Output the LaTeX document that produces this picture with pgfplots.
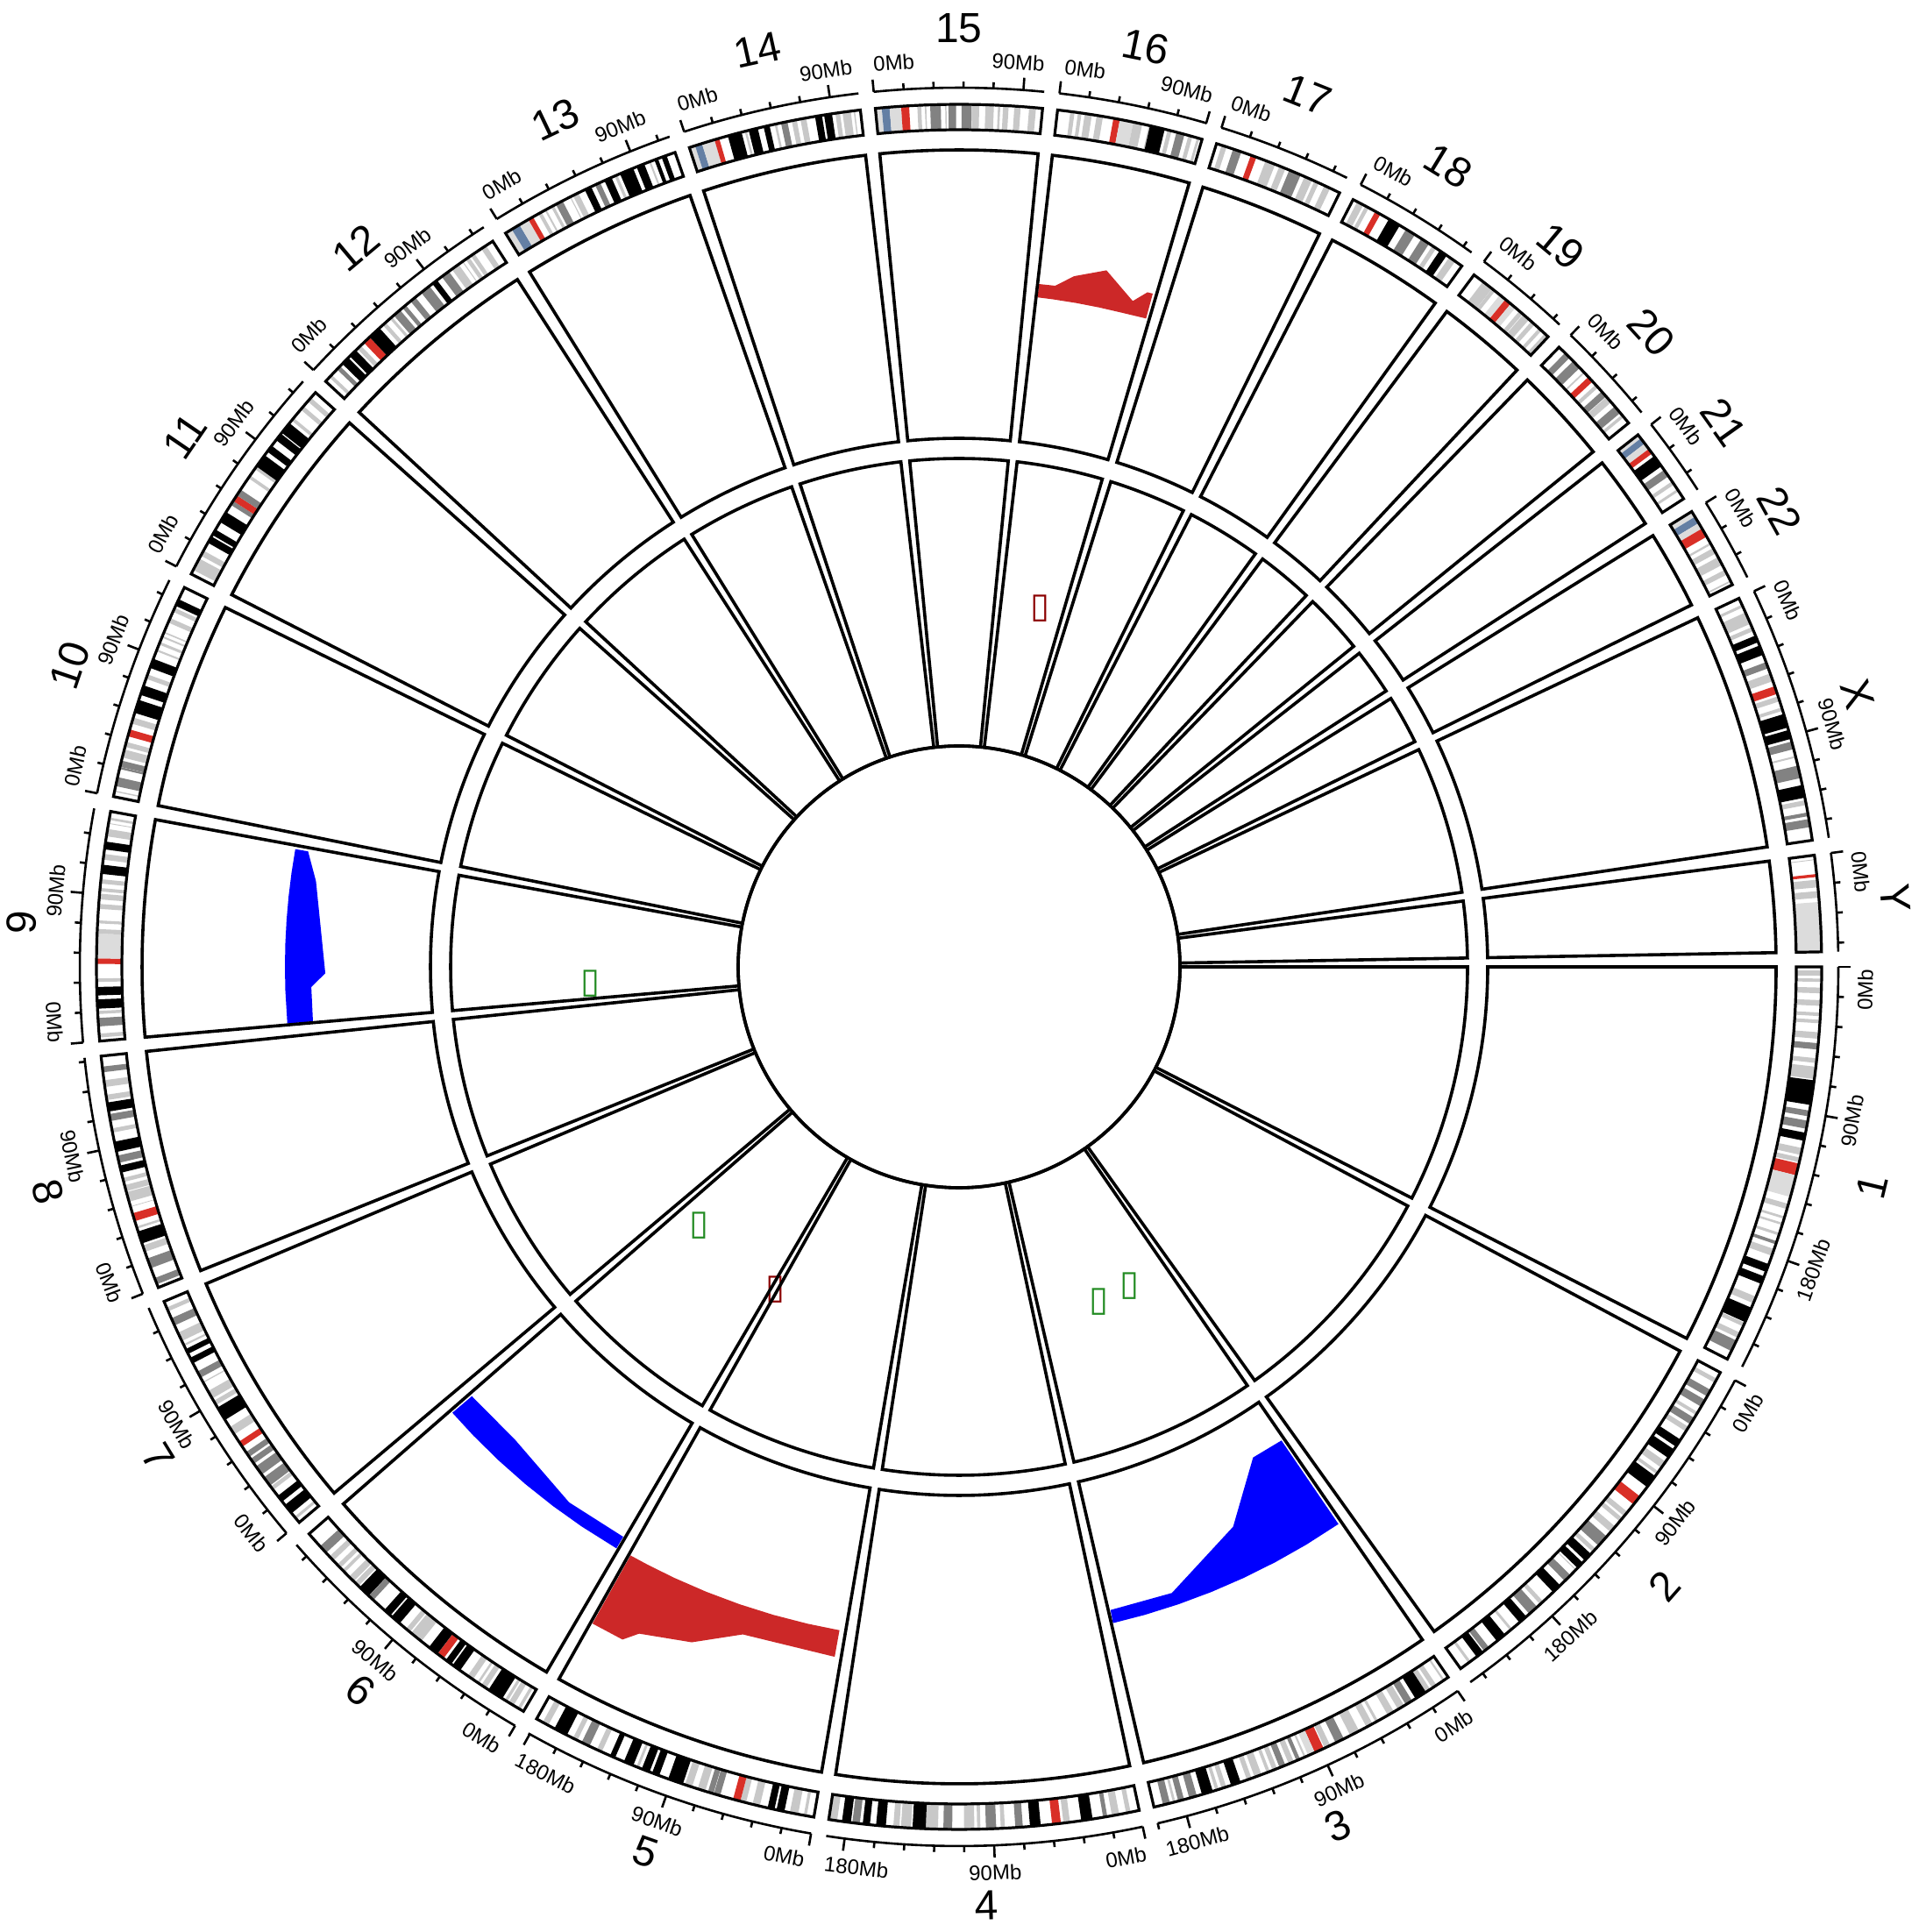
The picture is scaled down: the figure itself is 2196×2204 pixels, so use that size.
\documentclass[border=0pt]{standalone}
\usepackage{pgfplots}
\pgfplotsset{compat=1.18}
\usepackage{fontspec}
\setmainfont{Liberation Sans}
\newfontfamily\symfont{DejaVu Sans}

\definecolor{gpL}{RGB}{200,200,200}
\definecolor{gpD}{RGB}{130,130,130}
\definecolor{gpK}{RGB}{0,0,0}
\definecolor{gpV}{RGB}{220,220,220}
\definecolor{gpR}{RGB}{217,47,39}
\definecolor{gpS}{RGB}{100,127,164}
\definecolor{gainred}{RGB}{204,40,40}
\definecolor{lossblue}{RGB}{0,0,255}
\definecolor{txtred}{RGB}{139,0,0}
\definecolor{txtgreen}{RGB}{34,139,34}

\newcommand\kdeg{0.108539}
\newcommand\ideo[2]{%
  \foreach \bs/\bee/\bc in {#2}{%
    \pgfmathsetmacro\angA{-(#1+\bs*\kdeg)}%
    \pgfmathsetmacro\angB{-(#1+\bee*\kdeg)}%
    \fill[gp\bc] (\angA:955) arc[start angle=\angA, end angle=\angB, radius=955] -- (\angB:984) arc[start angle=\angB, end angle=\angA, radius=984] -- cycle;
  }}

\begin{document}
\begin{tikzpicture}
\begin{axis}[x=0.25pt, y=0.25pt, xmin=-1094, xmax=1102, ymin=-1101, ymax=1103,
  hide axis, clip=false]
% gains (outward from baseline)
\addplot[data cs=polar, draw=none, fill=gainred] coordinates {
 (83.32,769) (83.32,784.3) (81.97,784.7) (80.54,798.8) (78.05,812.2) (75.38,785.0)
 (74.40,799.0) (73.95,799.2) (73.91,769.8) (76,769) (78,769) (80,769) (82,769)} -- cycle;
\addplot[data cs=polar, draw=none, fill=gainred] coordinates {
 (-100.22,769) (-103,769) (-106,769) (-109,769) (-112,769) (-115,769) (-117.5,769) (-119.17,769)
 (-119.17,858.0) (-116.58,858.1) (-115.63,843.7) (-111.59,828.7) (-107.95,800.5) (-100.22,799.8)} -- cycle;
% losses (inward from baseline)
\addplot[data cs=polar, draw=none, fill=lossblue] coordinates {
 (184.83,769) (182,769) (180,769) (178,769) (176,769) (174,769) (172,769) (169.94,769)
 (169.94,754.2) (172.41,740.1) (180.58,723.0) (181.78,739.3) (184.83,739.7)} -- cycle;
\addplot[data cs=polar, draw=none, fill=lossblue] coordinates {
 (-76.80,769) (-74,769) (-71,769) (-68,769) (-65,769) (-62,769) (-59,769) (-55.75,769)
 (-55.76,653.6) (-59.07,652.5) (-63.92,711.1) (-71.23,754.4) (-76.75,753.8)} -- cycle;
\addplot[data cs=polar, draw=none, fill=lossblue] coordinates {
 (-138.65,770) (-136,770) (-133,770) (-130,770) (-127,770) (-124,770) (-120.51,770)
 (-120.51,754.7) (-126.06,755.7) (-133.17,740.0) (-138.61,740.8)} -- cycle;
% text marks in the inner track
\addplot[data cs=polar, only marks, color=txtred, mark=text, text mark={\symfont ▯}, text mark as node=true,
  text mark style={font=\fontsize{10}{10}\selectfont, text=txtred, inner sep=0pt, anchor=center}]
  coordinates {(77.19,419.4) (-119.71,423.7)};
\addplot[data cs=polar, only marks, color=txtgreen, mark=text, text mark={\symfont ▯}, text mark as node=true,
  text mark style={font=\fontsize{10}{10}\selectfont, text=txtgreen, inner sep=0pt, anchor=center}]
  coordinates {(-177.42,421.4) (-135.19,418.6) (-67.4,413.8) (-61.94,412.5)};
\coordinate (O) at (axis cs:0,0);
\end{axis}

\begin{scope}[shift={(O)}, x=0.25pt, y=0.25pt]
% ideogram bands
\ideo{0}{2.3/5.4/L,7.2/9.2/L,12.7/16.2/L,20.4/23.9/L,28.0/30.2/L,32.4/34.6/L,40.1/44.1/L,46.8/50.7/D,56.1/59.0/L,61.3/68.9/L,69.7/84.9/K,88.4/92.0/D,94.7/99.7/D,102.2/107.2/K,111.8/116.1/L,117.8/120.7/L,121.5/128.9/R,128.9/142.6/V,147.0/150.3/L,155.0/156.5/L,159.1/160.5/L,165.5/167.2/L,170.9/172.9/D,176.0/180.3/L,185.8/190.8/K,193.8/198.7/K,207.2/211.5/L,214.5/224.1/K,224.6/227.0/L,231.3/234.7/L,236.6/243.7/D}
\ideo{28.053}{4.4/7.1/L,12.2/16.7/D,19.2/24.0/D,27.9/30.0/L,32.1/36.6/D,38.6/41.8/L,47.8/52.9/K,55.0/61.3/K,64.1/68.6/L,71.5/73.5/L,75.0/83.3/K,90.5/96.8/R,102.7/106.0/L,107.5/110.2/L,114.4/118.8/L,122.4/129.9/D,132.5/135.1/L,136.8/142.2/K,144.1/148.7/K,149.9/150.5/L,154.9/159.8/D,163.7/169.7/K,178.0/180.6/L,183.0/189.4/D,191.9/197.4/K,203.3/204.9/L,209.0/215.3/K,221.5/225.2/D,226.1/231.0/K,235.6/237.3/L}
\ideo{55.45}{2.8/4.0/L,8.7/11.8/L,13.3/16.4/L,16.4/23.9/K,26.4/30.9/D,32.1/36.5/L,39.4/43.7/L,50.6/52.3/L,54.4/58.6/L,63.7/69.8/L,74.2/79.8/D,83.5/87.2/L,87.9/93.9/R,93.9/98.3/V,100.0/101.2/L,103.8/106.2/D,107.9/111.3/L,113.5/117.3/D,119.0/121.9/L,123.8/125.8/L,129.2/133.7/L,135.7/138.7/L,142.8/148.9/K,152.1/155.0/L,157.0/159.0/L,160.7/167.6/K,170.9/175.7/D,179.0/182.7/D,184.5/186.0/L,187.9/192.3/D}
\ideo{77.943}{5.4/8.2/L,12.5/17.0/L,19.9/22.5/D,29.0/36.0/K,43.0/47.0/L,48.6/54.0/R,61.0/67.6/K,72.0/76.6/D,83.0/85.5/L,88.3/94.6/D,98.0/100.0/L,101.7/108.0/L,115.3/120.7/D,124.0/131.5/L,131.5/139.6/K,140.5/146.7/L,147.7/151.4/L,156.0/162.0/K,165.8/170.2/K,172.0/176.6/D,177.5/183.0/K,186.0/191.0/L}
\ideo{99.69}{4.5/6.3/L,9.8/15.0/L,18.4/23.3/K,24.6/28.9/K,33.8/38.4/L,42.5/46.1/L,46.1/50.7/R,58.9/62.9/D,63.2/66.7/D,68.4/73.3/L,76.9/81.4/L,82.8/92.3/K,98.2/102.8/K,104.5/109.6/K,111.5/113.1/L,115.2/121.4/K,127.3/130.6/K,136.2/139.5/L,144.5/149.8/D,152.7/155.7/L,159.9/168.5/K,172.8/176.6/L}
\ideo{120.327}{2.3/4.2/L,7.1/10.6/L,11.6/13.4/L,15.2/25.2/K,27.0/30.4/L,32.1/33.5/L,36.6/40.5/L,46.2/51.8/K,52.9/57.0/K,58.7/63.3/R,63.4/70.0/K,75.9/83.9/L,84.9/88.0/L,93.1/99.5/K,100.6/105.5/K,114.6/118.3/D,118.5/126.1/K,127.1/130.3/L,131.2/135.2/L,139.0/141.0/L,142.8/145.6/L,149.0/152.5/L,155.5/161.0/D}
\ideo{139.9}{2.8/4.5/L,7.3/13.8/K,16.5/20.9/K,25.5/28.0/L,28.8/35.0/D,37.2/43.3/D,45.4/49.0/D,50.5/54.0/D,58.0/61.7/R,67.0/72.2/L,77.5/86.4/K,88.2/91.1/L,92.8/98.0/L,103.8/104.5/L,107.4/111.6/D,117.4/121.1/K,123.8/127.1/K,129.2/130.4/L,132.6/138.2/L,143.1/147.9/D,152.6/155.1/L}
\ideo{158.173}{2.2/6.2/D,12.7/19.0/D,23.3/27.4/L,28.8/36.5/K,38.3/39.7/L,43.1/48.1/R,52.2/52.6/L,55.5/61.6/L,62.2/66.0/L,68.0/70.5/L,73.9/78.3/K,80.1/84.6/D,86.9/93.3/K,99.0/101.6/L,106.2/110.5/D,112.1/117.7/K,119.2/122.5/L,127.3/131.5/L,136.4/139.9/D}
\ideo{175.059}{2.2/4.6/L,9.0/14.2/D,16.6/18.5/L,19.9/25.6/K,28.0/33.2/K,36.3/38.4/L,47.3/50.7/R,50.7/65.9/V,65.9/68.7/L,72.2/74.0/L,81.1/84.1/L,86.9/90.4/L,91.8/93.9/L,96.6/99.3/L,102.6/108.2/K,111.3/114.9/L,117.7/122.5/K,125.8/130.3/L,133.5/134.0/L,135.9/137.4/L}
\ideo{191.386}{3.0/3.8/L,6.6/12.2/D,17.3/18.6/D,18.7/22.6/D,24.6/29.6/L,31.3/34.4/L,38.0/42.3/R,46.1/49.9/L,52.9/61.2/K,64.5/70.6/K,74.9/77.7/L,82.0/87.9/K,92.9/94.1/L,97.3/99.0/L,101.9/103.0/L,104.9/105.8/L,111.9/114.9/L,119.1/121.7/L,123.1/127.5/K}
\ideo{207.096}{2.8/10.7/L,12.7/16.2/L,21.7/26.1/K,27.2/31.0/K,36.4/43.5/K,48.8/51.6/D,51.6/55.7/R,55.7/59.9/D,68.4/70.4/L,75.2/77.1/L,77.1/85.6/K,88.3/92.8/K,97.2/102.1/K,102.9/110.4/K,112.5/114.5/L,121.2/123.9/L,127.8/130.8/L}
\ideo{222.75}{3.3/5.4/L,10.1/12.8/D,14.8/20.0/K,21.3/26.5/K,27.8/30.7/L,33.3/38.2/R,38.2/46.4/K,49.1/51.5/L,54.9/56.6/L,58.1/63.1/D,65.1/67.7/D,71.5/75.3/D,79.9/86.3/D,88.6/92.2/K,95.8/101.2/D,103.5/108.6/L,111.3/111.9/L,113.9/116.4/L,117.7/120.3/L,125.4/128.9/L}
\ideo{238.278}{0/4.5/V,4.5/10.0/S,10.0/16.3/V,16.3/19.5/R,23.3/25.5/L,27.8/28.9/L,32.2/34.0/L,35.5/40.1/D,45.2/45.8/L,47.3/50.9/L,55.3/59.6/K,62.3/65.7/D,68.6/73.3/K,75.4/77.2/L,79.0/87.7/K,90.0/95.0/K,98.2/99.3/L,101.7/104.0/K,106.4/109.6/K}
\ideo{251.778}{0/3.7/V,3.7/8.1/S,8.1/16.1/V,16.1/19.1/R,24.6/33.3/K,35.3/36.6/L,37.8/43.5/K,47.2/50.9/K,54.1/55.5/L,58.1/62.1/D,64.8/67.9/L,70.2/73.8/L,79.3/83.6/K,84.9/89.8/K,91.9/94.7/L,96.3/101.4/L,103.2/104.0/L}
\ideo{264.43}{0/3.9/V,3.9/8.7/S,8.7/15.8/V,15.8/20.7/R,25.7/28.1/L,30.3/31.2/L,33.6/40.1/D,42.8/43.6/L,44.8/49.5/D,52.9/59.1/D,59.3/63.7/L,67.5/72.7/L,75.2/76.6/L,78.3/81.7/L,85.2/89.1/L,94.3/98.5/L}
\ideo{276.559}{7.9/10.5/L,12.6/14.8/L,16.8/21.2/L,24.2/28.1/L,34.6/38.6/R,38.6/47.0/V,47.0/52.6/L,56.7/57.4/L,57.4/66.7/K,68.5/71.0/L,74.1/79.2/D,81.7/84.2/L,87.1/88.7/L}
\ideo{287.366}{3.3/6.5/L,10.7/16.0/D,22.2/25.8/R,31.8/38.1/L,40.9/44.9/L,47.4/55.0/D,57.6/62.6/L,64.2/67.1/L,70.9/74.8/L}
\ideo{297.179}{2.9/7.1/L,8.5/10.9/L,15.4/19.0/R,25.0/32.7/K,37.2/43.5/D,48.2/53.8/D,56.2/59.0/L,61.6/66.8/K,68.7/73.1/L}
\ideo{306.654}{6.9/13.9/L,14.0/16.3/L,20.0/24.4/V,24.4/28.6/R,28.6/32.4/V,35.5/38.3/L,38.7/43.4/L,45.2/48.0/L,51.4/53.6/L,56.3/59.1/L}
\ideo{314.072}{5.1/9.2/D,12.1/17.9/D,21.3/22.3/L,25.6/29.4/R,32.1/34.4/L,37.6/41.7/D,42.1/46.4/L,49.8/55.0/D,56.5/58.4/L}
\ideo{321.913}{0/2.8/V,2.8/6.8/S,6.8/10.9/V,10.9/14.3/R,16.4/24.0/K,26.8/31.5/D,35.3/37.6/L,41.0/42.6/L}
\ideo{328.137}{0/3.8/V,3.8/8.3/S,8.3/12.2/V,12.2/17.9/R,22.2/23.5/L,25.9/29.6/L,32.2/37.6/L,41.0/44.2/L,48.4/49.4/L}
\ideo{334.705}{4.3/6.0/L,9.5/17.1/L,19.3/21.9/L,24.9/29.3/K,31.5/37.6/K,42.4/46.4/D,49.8/54.8/L,58.1/63.0/R,64.6/67.8/L,71.8/73.9/L,76.0/84.6/K,86.2/91.8/K,93.5/98.3/D,102.6/103.7/L,108.7/116.5/D,120.9/128.8/K,130.4/133.4/L,138.0/140.3/D,142.1/147.1/D}
\ideo{352.558}{2.5/3.0/L,11.6/13.4/R,15.1/19.8/L,22.1/26.2/L,28.8/59.37/V}

% sectors, ideogram borders, axes and labels
\foreach \nm/\s/\len in {1/0/249.25,2/28.053/243.20,3/55.45/198.02,4/77.943/191.15,5/99.69/180.92,6/120.327/171.12,7/139.9/159.14,8/158.173/146.36,9/175.059/141.21,10/191.386/135.53,11/207.096/135.01,12/222.75/133.85,13/238.278/115.17,14/251.778/107.35,15/264.43/102.53,16/276.559/90.35,17/287.366/81.20,18/297.179/78.08,19/306.654/59.13,20/314.072/63.03,21/321.913/48.13,22/328.137/51.30,X/334.705/155.27,Y/352.558/59.37}{%
  \pgfmathsetmacro\en{\s+\len*\kdeg}%
  \pgfmathsetmacro\sa{-\s}%
  \pgfmathsetmacro\ea{-\en}%
  \draw[line width=0.9pt] (\sa:603) arc[start angle=\sa, end angle=\ea, radius=603] -- (\ea:932) arc[start angle=\ea, end angle=\sa, radius=932] -- cycle;
  \draw[line width=0.9pt] (\sa:252) arc[start angle=\sa, end angle=\ea, radius=252] -- (\ea:580) arc[start angle=\ea, end angle=\sa, radius=580] -- cycle;
  \draw[line width=0.8pt] (\sa:955) arc[start angle=\sa, end angle=\ea, radius=955] -- (\ea:984) arc[start angle=\ea, end angle=\sa, radius=984] -- cycle;
  \draw[line width=0.65pt] (\sa:1003) arc[start angle=\sa, end angle=\ea, radius=1003];
  \foreach \m in {0,18,...,252}{%
    \pgfmathtruncatemacro\ok{(\m<=\len)?1:0}%
    \ifnum\ok=1
      \pgfmathsetmacro\ta{-(\s+\m*\kdeg)}%
      \pgfmathtruncatemacro\mj{(mod(\m,90)==0)?1:0}%
      \ifnum\mj=1
        \draw[line width=0.65pt] (\ta:1003) -- (\ta:1017);
        \pgfmathsetmacro\nd{(\m<1)?1:((\m<100)?2:3)}%
        \pgfmathsetmacro\hw{(0.556*\nd+1.389)*0.665+0.15}%
        \pgfmathsetmacro\cc{max(\s+\hw, min(\s+\m*\kdeg, \en-\hw))}%
        \pgfmathsetmacro\lang{-\cc}%
        \pgfmathsetmacro\rt{sin(\lang)>0 ? \lang-90 : \lang+90}%
        \node[rotate=\rt, inner sep=0pt, font=\fontsize{6}{7}\selectfont] at (\lang:1034) {\m Mb};
      \else
        \draw[line width=0.65pt] (\ta:1003) -- (\ta:1010);
      \fi
    \fi
  }
  \pgfmathsetmacro\ma{-(\s+\len*\kdeg/2)}%
  \pgfmathsetmacro\mr{sin(\ma)>0 ? \ma-90 : \ma+90}%
  \node[rotate=\mr, inner sep=0pt, font=\fontsize{12}{14}\selectfont] at (\ma:1071) {\nm};
}
\draw[line width=0.9pt] (0,0) circle[radius=252];
\pgfresetboundingbox
\path[use as bounding box] (-1094,-1101) rectangle (1102,1103);
\end{scope}
\end{tikzpicture}
\end{document}
